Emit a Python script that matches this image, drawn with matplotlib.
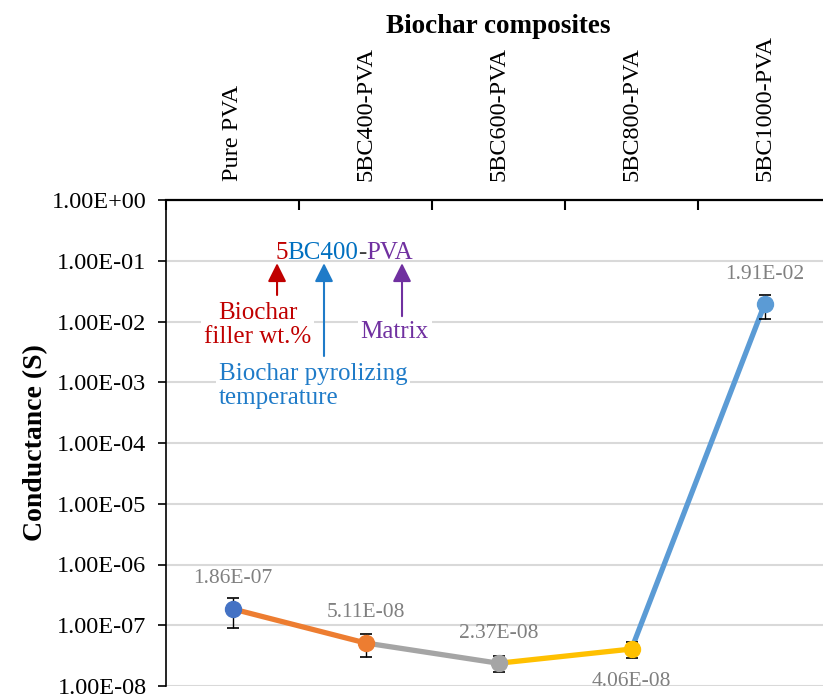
import matplotlib
matplotlib.use("Agg")
import matplotlib.pyplot as plt
import numpy as np
from matplotlib.ticker import FixedLocator, NullFormatter, FuncFormatter

plt.rcParams['font.family'] = ['Liberation Serif', 'DejaVu Serif']

# ---- data ----
categories = ["Pure PVA", "5BC400-PVA", "5BC600-PVA", "5BC800-PVA", "5BC1000-PVA"]
conductance = [1.86e-07, 5.11e-08, 2.37e-08, 4.06e-08, 1.91e-02]
errors = [9.5e-08, 2.1e-08, 7.0e-09, 1.2e-08, 8.0e-03]
value_labels = ["1.86E-07", "5.11E-08", "2.37E-08", "4.06E-08", "1.91E-02"]
marker_colors = ["#4472C4", "#ED7D31", "#A5A5A5", "#FFC000", "#5B9BD5"]
label_above = [True, True, True, False, True]
y_ticks = [1e-8, 1e-7, 1e-6, 1e-5, 1e-4, 1e-3, 1e-2, 1e-1, 1e0]

fig = plt.figure(figsize=(8.23, 6.98), dpi=100)
W, H = 823, 698
ax_l, ax_r, ax_t, ax_b = 166, 831, 200, 686
ax = fig.add_axes([ax_l / W, 1 - ax_b / H, (ax_r - ax_l) / W, (ax_b - ax_t) / H])

x = np.arange(len(categories)) + 0.5
ax.set_yscale('log')
ax.set_ylim(1e-8, 1e0)
ax.set_xlim(0, len(categories))

# grid
for yt in y_ticks:
    ax.axhline(yt, color='#D9D9D9', lw=1.5, zorder=0)

# line segments coloured by destination point
for i in range(1, len(categories)):
    ax.plot(x[i - 1:i + 1], conductance[i - 1:i + 1], color=marker_colors[i],
            lw=3.8, solid_capstyle='round', zorder=2)

# error bars
ax.errorbar(x, conductance, yerr=errors, fmt='none', ecolor='black',
            elinewidth=1.0, capsize=4.3, capthick=1.2, zorder=3)

# markers
for xi, yi, c in zip(x, conductance, marker_colors):
    ax.plot([xi], [yi], 'o', color=c, markersize=11.5, zorder=4)

# value labels
for xi, yi, lab, above in zip(x, conductance, value_labels, label_above):
    ax.annotate(lab, (xi, yi), xytext=(0, 30 if above else -32),
                textcoords='offset pixels', ha='center', va='center',
                fontsize=15.5, color='#808080', zorder=5)

# axes styling
ax.spines['right'].set_visible(False)
ax.spines['bottom'].set_visible(False)
ax.spines['left'].set_linewidth(1.2)
ax.spines['top'].set_linewidth(1.6)

ax.yaxis.set_major_locator(FixedLocator(y_ticks))
ax.yaxis.set_minor_locator(FixedLocator([]))
ax.yaxis.set_major_formatter(FuncFormatter(
    lambda v, p: "{:.2E}".format(v)))
ax.tick_params(axis='y', which='major', direction='out', length=6, width=1.2,
               labelsize=17.5, pad=8)

ax.xaxis.tick_top()
ax.xaxis.set_major_locator(FixedLocator(list(range(len(categories) + 1))))
ax.xaxis.set_major_formatter(NullFormatter())
ax.xaxis.set_minor_locator(FixedLocator(list(x)))
ax.set_xticks(x, categories, minor=True)
ax.tick_params(axis='x', which='major', direction='in', length=7, width=1.5,
               top=True, bottom=False)
ax.tick_params(axis='x', which='minor', length=0, top=True, bottom=False,
               labeltop=True, labelbottom=False, labelsize=17.5, pad=14)
for lab in ax.get_xticklabels(minor=True):
    lab.set_rotation(90)
    lab.set_va('bottom')
    lab.set_ha('center')

ax.xaxis.set_label_position('top')
ax.set_xlabel("Biochar composites", fontsize=19.5, fontweight='bold', labelpad=1)
ax.set_ylabel("Conductance (S)", fontsize=20, fontweight='bold', labelpad=3)

# ---- annotation explaining the naming ----
red, blue, purple, dash = '#C00000', '#0070C0', '#7030A0', '#404040'
name_parts = [("5", red), ("BC400", blue), ("-", dash), ("PVA", purple)]
prev = ax.text(0.164, 0.8786, name_parts[0][0], transform=ax.transAxes,
               color=name_parts[0][1], fontsize=18, ha='left', va='baseline', zorder=6)
for txt, col in name_parts[1:]:
    prev = ax.annotate(txt, xy=(1, 0), xycoords=prev, ha='left', va='bottom',
                       color=col, fontsize=18, zorder=6)

arrow_specs = [(0.167, 0.8045, red), (0.2376, 0.679, '#1F7BC8'), (0.3549, 0.761, purple)]
for fx, fy, col in arrow_specs:
    ax.annotate('', xy=(fx, 0.870), xytext=(fx, fy), xycoords='axes fraction',
                arrowprops=dict(arrowstyle='-|>', color=col, lw=1.5,
                                mutation_scale=28, shrinkA=0, shrinkB=0), zorder=6)

box = dict(facecolor='white', edgecolor='none', pad=2)
ax.text(0.138, 0.743, "Biochar\nfiller wt.%", transform=ax.transAxes, color=red,
        fontsize=18, ha='center', va='center', multialignment='center',
        linespacing=1.1, bbox=box, zorder=5)
ax.text(0.344, 0.728, "Matrix", transform=ax.transAxes, color=purple,
        fontsize=18, ha='center', va='center', bbox=box, zorder=5)
ax.text(0.0797, 0.617, "Biochar pyrolizing\ntemperature", transform=ax.transAxes,
        color='#1F7BC8', fontsize=18, ha='left', va='center', linespacing=1.1,
        bbox=box, zorder=5)

fig.savefig("out.png", dpi=100)
